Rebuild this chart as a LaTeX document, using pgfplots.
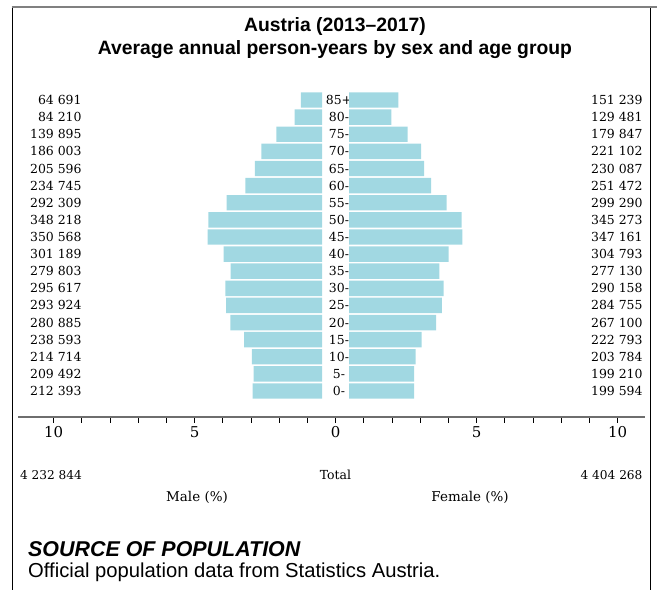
\documentclass[border=0pt]{standalone}
\usepackage{fontspec}
\setmainfont{DejaVu Serif}
\newfontfamily\sansf{Liberation Sans}
\usepackage{pgfplots}
\pgfplotsset{compat=1.18}
\usepackage{pgfplotstable}
\definecolor{barblue}{RGB}{161,216,226}
\definecolor{framegray}{RGB}{128,128,128}
\definecolor{axisgray}{RGB}{110,110,110}

\pgfplotstableread{
age m f
0 212393 199594
1 209492 199210
2 214714 203784
3 238593 222793
4 280885 267100
5 293924 284755
6 295617 290158
7 279803 277130
8 301189 304793
9 350568 347161
10 348218 345273
11 292309 299290
12 234745 251472
13 205596 230087
14 186003 221102
15 139895 179847
16 84210 129481
17 64691 151239
}\pop

\pgfplotsset{popaxis/.style={
  x=28.2bp, y=17.12bp, ymin=-0.5, ymax=17.5,
  axis line style={draw=none}, xtick=\empty, ytick={0,...,17},
  major tick length=0pt, clip=false,
  /pgf/number format/assume math mode=true,
  tick label style={font=\fontsize{12.5}{12.5}\selectfont},
}}

\begin{document}
\begin{tikzpicture}
\useasboundingbox (0,0) rectangle (657bp,590bp);
% frame
\draw[black, line width=0.8bp] (12bp,0) -- (12bp,583bp);
\draw[black, line width=0.8bp] (650bp,0) -- (650bp,583bp);
\draw[framegray, line width=2.5bp] (11.6bp,583bp) -- (657bp,583bp);

% titles
\node[font=\sansf\bfseries\fontsize{19.4}{19.4}\selectfont] at (335bp,563bp) {Austria (2013–2017)};
\node[font=\sansf\bfseries\fontsize{19.4}{19.4}\selectfont] at (335bp,540bp) {Average annual person-years by sex and age group};

% male
\begin{axis}[popaxis, xmin=-8.4, xmax=0, at={(322bp,190.4bp)}, anchor=south east,
  yticklabels={212 393,209 492,214 714,238 593,280 885,293 924,295 617,279 803,301 189,350 568,348 218,292 309,234 745,205 596,186 003,139 895,84 210,64 691}]
\addplot[xbar, bar width=15.4bp, fill=barblue, draw=none] table[x expr=-\thisrow{m}/86371.12, y=age] {\pop};
\end{axis}

% female
\begin{axis}[popaxis, xmin=0, xmax=10.5, at={(349bp,190.4bp)}, anchor=south west,
  yticklabels={0-,5-,10-,15-,20-,25-,30-,35-,40-,45-,50-,55-,60-,65-,70-,75-,80-,85+},
  yticklabel style={anchor=center, xshift=-10bp}]
\addplot[xbar, bar width=15.4bp, fill=barblue, draw=none] table[x expr=\thisrow{f}/86371.12, y=age] {\pop};
\end{axis}

% female counts on the right
\begin{axis}[popaxis, xmin=0, xmax=10.5, at={(349bp,190.4bp)}, anchor=south west,
  yticklabel pos=right,
  yticklabels={199 594,199 210,203 784,222 793,267 100,284 755,290 158,277 130,304 793,347 161,345 273,299 290,251 472,230 087,221 102,179 847,129 481,151 239},
  yticklabel style={anchor=east, xshift=1bp}]
\end{axis}

% bottom scale
\begin{axis}[x=28.2bp, y=10bp, xmin=-11.26, xmax=10.98, ymin=0, ymax=1,
  at={(18bp,173bp)}, anchor=south west,
  axis x line*=bottom, axis y line=none,
  x axis line style={line width=2bp, draw=axisgray},
  xtick={-10,...,10}, xticklabels={10,,,,,5,,,,,0,,,,,5,,,,,10},
  tick align=outside, major tick length=6bp, tick style={black, line width=0.8bp},
  /pgf/number format/assume math mode=true,
  xticklabel style={font=\fontsize{15}{15}\selectfont}]
\end{axis}

% totals and labels
\node[anchor=west, font=\fontsize{12.2}{12.2}\selectfont] at (16.5bp,115bp) {4 232 844};
\node[font=\fontsize{12.5}{12.5}\selectfont] at (335.5bp,115bp) {Total};
\node[anchor=east, font=\fontsize{12.2}{12.2}\selectfont] at (646bp,115bp) {4 404 268};
\node[font=\fontsize{13.5}{13.5}\selectfont] at (197bp,93bp) {Male (\%)};
\node[font=\fontsize{13.5}{13.5}\selectfont] at (470bp,93bp) {Female (\%)};

% source
\node[anchor=west, inner sep=0pt, font=\sansf\bfseries\itshape\fontsize{21.5}{21.5}\selectfont] at (28bp,41bp) {SOURCE OF POPULATION};
\node[anchor=west, inner sep=0pt, font=\sansf\fontsize{20.3}{20.3}\selectfont] at (28bp,18bp) {Official population data from Statistics Austria.};
\end{tikzpicture}
\end{document}
